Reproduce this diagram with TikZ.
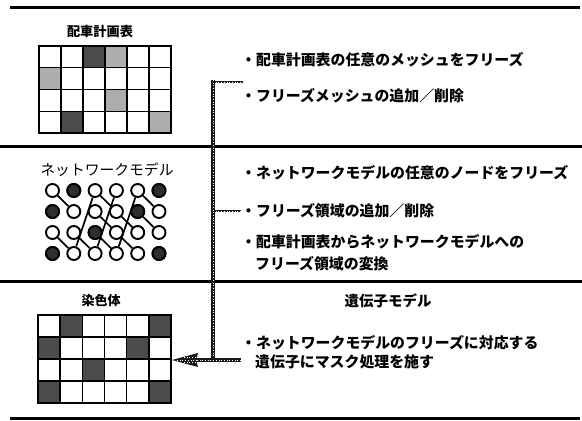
\documentclass[tikz,border=0pt]{standalone}
\usepackage{fontspec}
\setmainfont{Noto Sans CJK JP}
\usetikzlibrary{arrows.meta}
\tikzset{
  sepline/.style={line width=3pt},
  lite/.style={fill=black!32},
  dark/.style={fill=black!70},
  gridline/.style={line width=1.4pt},
  gridframe/.style={line width=2.4pt},
  nd/.style={circle, draw, line width=1.9pt, minimum size=13pt, inner sep=0pt, fill=white},
  ndf/.style={nd, fill=black!82},
  edge/.style={line width=1.7pt},
  hatch/.style={line width=4.2pt, draw=black!90, postaction={draw=white, line width=0.6pt, dash pattern=on 0.9pt off 1.8pt}},
  hatchthin/.style={line width=2.8pt, draw=black!90, postaction={draw=white, line width=0.5pt, dash pattern=on 0.9pt off 1.8pt}},
  title/.style={font=\bfseries\fontsize{13.2}{15}\selectfont, inner sep=0pt},
  item/.style={font=\bfseries\fontsize{14.9}{22}\selectfont, anchor=west, inner sep=0pt, align=left},
}
\begin{document}
\begin{tikzpicture}[x=1pt,y=-1pt]
\useasboundingbox (0,0) rectangle (582,421);
% separator lines
\draw[sepline] (10,7) -- (580,7);
\draw[sepline] (0,146) -- (582,146);
\draw[sepline] (0,281) -- (582,281);
\draw[sepline] (10,418) -- (580,418);

% ---------- section 1 ----------
\node[title] (t1) at (100,31) {配車計画表};
\begin{scope}[shift={(39,46)}]
  \def\cw{22}\def\ch{21.75}
  \fill[dark] (2*\cw,0) rectangle (3*\cw,\ch);
  \fill[lite] (3*\cw,0) rectangle (4*\cw,\ch);
  \fill[lite] (0,\ch) rectangle (\cw,2*\ch);
  \fill[lite] (3*\cw,2*\ch) rectangle (4*\cw,3*\ch);
  \fill[dark] (\cw,3*\ch) rectangle (2*\cw,4*\ch);
  \fill[lite] (5*\cw,3*\ch) rectangle (6*\cw,4*\ch);
  \foreach \i in {1,...,5} \draw[gridline] (\i*\cw,0) -- (\i*\cw,4*\ch);
  \foreach \j in {1,2,3} \draw[gridline] (0,\j*\ch) -- (6*\cw,\j*\ch);
  \draw[gridframe] (0,0) rectangle (6*\cw,4*\ch);
\end{scope}

% ---------- section 2 ----------
\node[font=\fontsize{14.8}{16}\selectfont, inner sep=0pt] (t2) at (107,170) {ネットワークモデル};
\foreach \r/\yy in {1/190.5,2/211.5,3/232.5,4/253.5}{
  \foreach \c/\xx in {1/52.5,2/73.8,3/95.1,4/116.4,5/137.7,6/159}{
    \node[nd] (n\r\c) at (\xx,\yy) {};
  }
}
\foreach \rc in {12,16,21,25,33,41,46} \node[ndf] at (n\rc) {};
\foreach \a/\b in {11/22,31/42,32/43,33/44,13/24,23/34,24/35,34/45,15/26,25/36,42/13,43/14,44/15}
  \draw[edge] (n\a) -- (n\b);

% ---------- section 3 ----------
\node[title, font=\bfseries\fontsize{13}{15}\selectfont] (t3) at (101,301) {染色体};
\begin{scope}[shift={(38,315)}]
  \def\cw{22.17}\def\ch{22}
  \foreach \c/\r in {2/1,6/1,1/2,5/2,3/3,1/4,6/4}
    \fill[dark] ({(\c-1)*\cw},{(\r-1)*\ch}) rectangle ({\c*\cw},{\r*\ch});
  \foreach \i in {1,...,5} \draw[gridline] (\i*\cw,0) -- (\i*\cw,4*\ch);
  \foreach \j in {1,2,3} \draw[gridline] (0,\j*\ch) -- (6*\cw,\j*\ch);
  \draw[gridframe] (0,0) rectangle (6*\cw,4*\ch);
\end{scope}

% ---------- right texts ----------
\node[item] (a1) at (241,60) {・配車計画表の任意のメッシュをフリーズ};
\node[item] (a2) at (241,96) {・フリーズメッシュの追加／削除};
\node[item] (b1) at (241,173) {・ネットワークモデルの任意のノードをフリーズ};
\node[item] (b2) at (241,211) {・フリーズ領域の追加／削除};
\node[item] (b3) at (241,242) {・配車計画表からネットワークモデルへの};
\node[item] (b4) at (255,264) {フリーズ領域の変換};
\node[title, font=\bfseries\fontsize{14.5}{16}\selectfont] (g0) at (388,301) {遺伝子モデル};
\node[item] (c1) at (241,343) {・ネットワークモデルのフリーズに対応する};
\node[item] (c2) at (255,362) {遺伝子にマスク処理を施す};

% ---------- hatched connector ----------
\coordinate (top) at (213,82);
\coordinate (topend) at (243,82);
\coordinate (mid) at (213,211);
\coordinate (bot) at (213,360);
\coordinate (botend) at (241,360);
\coordinate (tip) at (172,360);
\draw[hatchthin] (top) -- (topend);
\draw[hatchthin] (mid) -- (b2.west);
\draw[hatch] (213,80) -- (bot);
\draw[hatch] (botend) -- (196,360);
\fill[black!90] (tip) -- (198,353) -- (196,360) -- (198,367) -- cycle;
\draw[white, line width=0.6pt, dash pattern=on 0.9pt off 1.8pt] (177,360) -- (198,360);
\draw[white, line width=0.6pt, dash pattern=on 0.9pt off 1.8pt] (184,357.3) -- (197,357.3);
\draw[white, line width=0.6pt, dash pattern=on 0.9pt off 1.8pt] (184,362.7) -- (197,362.7);
\end{tikzpicture}
\end{document}
